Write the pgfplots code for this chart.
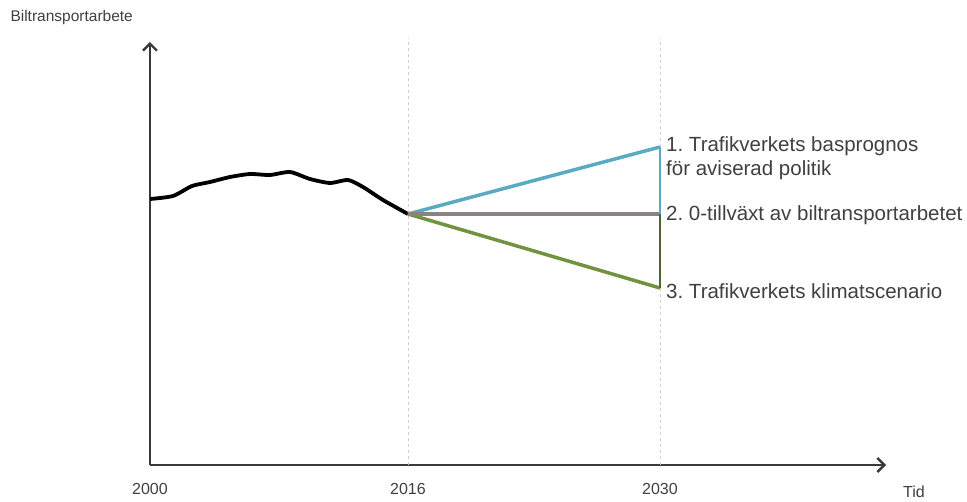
\documentclass[border=0pt]{standalone}
\usepackage{pgfplots}
\pgfplotsset{compat=1.18}
\usetikzlibrary{arrows.meta}
\usepackage{fontspec}
\setmainfont{Liberation Sans}
\frenchspacing
\definecolor{txt}{HTML}{404040}
\definecolor{axc}{HTML}{3A3A3A}
\definecolor{cblue}{HTML}{5AAAC4}
\definecolor{cgray}{HTML}{8A837F}
\definecolor{cgreen}{HTML}{71923F}
\definecolor{dashcol}{HTML}{D0D0D0}
\begin{document}
\begin{tikzpicture}
\begin{axis}[
  x=1pt, y=1pt,
  xmin=150, xmax=886, ymin=35, ymax=458,
  axis x line=bottom, axis y line=left,
  axis line style={line width=2.6pt, color=axc, -{Straight Barb[length=7pt,width=14pt,line width=2.4pt]}},
  xtick={150,408,660}, xticklabels={2000,2016,2030},
  ytick=\empty,
  major tick length=0pt,
  xticklabel style={font=\fontsize{16}{18}\selectfont, text=txt, yshift=-15pt},
  /pgf/number format/assume math mode=true,
  clip=false,
]
\path (axis cs:0,0) rectangle (axis cs:967,500);
\addplot[color=dashcol, dashed, line width=0.8pt] coordinates {(408,35) (408,462)};
\addplot[color=dashcol, dashed, line width=0.8pt] coordinates {(660,35) (660,462)};
% history (pixel-mapped: x=px, y=500-py)
\addplot[black, line width=3.8pt, smooth, tension=0.4] coordinates {
(150,301) (173,304) (192,314) (210,318) (230,323) (250,326) (270,325) (290,328)
(310,321) (330,317) (348,320) (363,313) (383,300) (408,286)};
\addplot[cblue, line width=3.5pt] coordinates {(408,286) (660,353)};
\addplot[cgreen, line width=3.5pt] coordinates {(408,286) (660,212)};
\addplot[cgray, line width=3.5pt] coordinates {(408,286) (660,286)};
\addplot[cblue, line width=1.2pt] coordinates {(660,353) (660,286)};
\addplot[cgreen!70!black, line width=1.2pt] coordinates {(660,286) (660,212)};
\node[anchor=base west, inner sep=0pt, text=txt, font=\fontsize{20.5}{24}\selectfont] at (axis cs:666,349) {1. Trafikverkets basprognos};
\node[anchor=base west, inner sep=0pt, text=txt, font=\fontsize{20.5}{24}\selectfont] at (axis cs:666,325) {för aviserad politik};
\node[anchor=base west, inner sep=0pt, text=txt, font=\fontsize{20.5}{24}\selectfont] at (axis cs:666,280) {2. 0-tillväxt av biltransportarbetet};
\node[anchor=base west, inner sep=0pt, text=txt, font=\fontsize{20.5}{24}\selectfont] at (axis cs:666,202) {3. Trafikverkets klimatscenario};
\node[anchor=west, text=txt, font=\fontsize{15.5}{18}\selectfont] at (axis cs:7,483) {Biltransportarbete};
\node[anchor=center, text=txt, font=\fontsize{16}{18}\selectfont] at (axis cs:914,8) {Tid};
\end{axis}
\end{tikzpicture}
\end{document}
